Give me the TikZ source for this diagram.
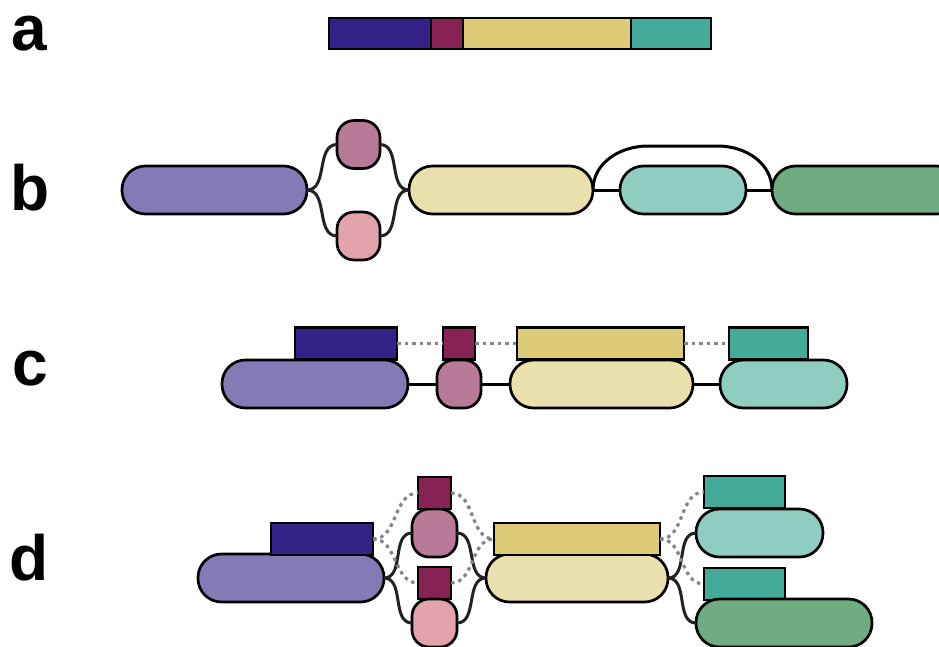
\documentclass[tikz,border=0pt]{standalone}
\usepackage{fontspec}
\setmainfont{Liberation Sans}
\definecolor{cNavy}{HTML}{352288}
\definecolor{cWine}{HTML}{882255}
\definecolor{cSand}{HTML}{DDCC77}
\definecolor{cTeal}{HTML}{44AA99}
\definecolor{pPurple}{HTML}{857AB6}
\definecolor{pRose}{HTML}{B87A96}
\definecolor{pPink}{HTML}{E2A3AD}
\definecolor{pSand}{HTML}{EAE0AE}
\definecolor{pTeal}{HTML}{8FCDC1}
\definecolor{pGreen}{HTML}{6FAC82}
\definecolor{lineDark}{HTML}{222222}
\definecolor{dotGray}{HTML}{858585}
\begin{document}
\begin{tikzpicture}[x=1pt,y=-1pt,
  shp/.style={draw=black, line width=2.7pt, inner sep=0pt, outer sep=0pt},
  pill/.style={shp, rounded corners=23.5pt, minimum height=48pt},
  knob/.style={shp, rounded corners=17pt, minimum height=48pt},
  bar/.style={shp, minimum height=32pt},
  link/.style={draw=lineDark, line width=3pt},
  dlink/.style={draw=dotGray, line width=3.2pt, dash pattern=on 3.5pt off 4pt},
  lbl/.style={font=\bfseries\fontsize{64}{64}\selectfont, anchor=base west, inner sep=0pt}]
\useasboundingbox (0,0) rectangle (939,646);
\clip (0,0) rectangle (939,646);
% labels
\node[lbl] (la) at (11,50) {a};
\node[lbl] (lb) at (10,210) {b};
\node[lbl] (lc) at (12,385) {c};
\node[lbl] (ld) at (9,580) {d};
% row a
\node[bar, fill=cNavy, minimum width=102pt, minimum height=31pt] (An) at (380,33.5) {};
\node[bar, fill=cWine, minimum width=32pt, minimum height=31pt] (Am) at (447,33.5) {};
\node[bar, fill=cSand, minimum width=168pt, minimum height=31pt] (As) at (547,33.5) {};
\node[bar, fill=cTeal, minimum width=80pt, minimum height=31pt] (Aq) at (671,33.5) {};
% row b
\node[pill, fill=pPurple, minimum width=185pt] (Bp) at (214.5,190) {};
\node[knob, fill=pRose, minimum width=43pt] (Bk1) at (358.5,144.5) {};
\node[knob, fill=pPink, minimum width=43pt] (Bk2) at (358.5,236) {};
\node[pill, fill=pSand, minimum width=184pt] (By) at (501,190) {};
\node[pill, fill=pTeal, minimum width=126pt] (Bt) at (683,190) {};
\node[pill, fill=pGreen, minimum width=188pt] (Bg) at (866,190) {};
\draw[link] (Bp.east) to[out=0,in=180] (Bk1.west);
\draw[link] (Bp.east) to[out=0,in=180] (Bk2.west);
\draw[link] (Bk1.east) to[out=0,in=180] (By.west);
\draw[link] (Bk2.east) to[out=0,in=180] (By.west);
\draw[link, draw=black] (By.east) -- (Bt.west);
\draw[link, draw=black] (Bt.east) -- (Bg.west);
\coordinate (arcL) at (648,146);
\coordinate (arcR) at (718,146);
\draw[link, draw=black] (By.east) to[out=90,in=180] (arcL) -- (arcR) to[out=0,in=90] (Bg.west);
% row c
\node[pill, fill=pPurple, minimum width=186pt] (Cp) at (315,384) {};
\node[knob, fill=pRose, minimum width=44pt] (Ck) at (459,384) {};
\node[pill, fill=pSand, minimum width=183pt] (Cy) at (601.5,384) {};
\node[pill, fill=pTeal, minimum width=127pt] (Ct) at (783.5,384) {};
\node[bar, fill=cNavy, minimum width=102pt] (Cn) at (346,343.5) {};
\node[bar, fill=cWine, minimum width=32pt] (Cm) at (459,343.5) {};
\node[bar, fill=cSand, minimum width=167pt] (Cs) at (600.5,343.5) {};
\node[bar, fill=cTeal, minimum width=79pt] (Cq) at (768.5,343.5) {};
\draw[link, draw=black] (Cp.east) -- (Ck.west);
\draw[link, draw=black] (Ck.east) -- (Cy.west);
\draw[link, draw=black] (Cy.east) -- (Ct.west);
\draw[dlink] (Cn.east) -- (Cm.west);
\draw[dlink] (Cm.east) -- (Cs.west);
\draw[dlink] (Cs.east) -- (Cq.west);
% row d
\node[pill, fill=pPurple, minimum width=186pt] (Dp) at (291,578) {};
\node[bar, fill=cNavy, minimum width=102pt] (Dn) at (322,539) {};
\node[knob, fill=pRose, minimum width=45pt] (Dk1) at (434.5,533) {};
\node[bar, fill=cWine, minimum width=33pt] (Dm1) at (434.5,493) {};
\node[bar, fill=cWine, minimum width=33pt] (Dm2) at (434.5,583) {};
\node[knob, fill=pPink, minimum width=45pt] (Dk2) at (434.5,623) {};
\node[pill, fill=pSand, minimum width=182pt] (Dy) at (577,578) {};
\node[bar, fill=cSand, minimum width=166pt] (Ds) at (577,539) {};
\node[bar, fill=cTeal, minimum width=81pt] (Dq1) at (744.5,492) {};
\node[pill, fill=pTeal, minimum width=127pt] (Dt) at (759.5,533) {};
\node[bar, fill=cTeal, minimum width=81pt] (Dq2) at (744.5,584) {};
\node[pill, fill=pGreen, minimum width=176pt] (Dg) at (784,623) {};
\draw[link] (Dp.east) to[out=0,in=180] (Dk1.west);
\draw[link] (Dp.east) to[out=0,in=180] (Dk2.west);
\draw[link] (Dk1.east) to[out=0,in=180] (Dy.west);
\draw[link] (Dk2.east) to[out=0,in=180] (Dy.west);
\draw[link] (Dy.east) to[out=0,in=180] (Dt.west);
\draw[link] (Dy.east) to[out=0,in=180] (Dg.west);
\draw[dlink] (Dn.east) to[out=0,in=180] (Dm1.west);
\draw[dlink] (Dn.east) to[out=0,in=180] (Dm2.west);
\draw[dlink] (Dm1.east) to[out=0,in=180] (Ds.west);
\draw[dlink] (Dm2.east) to[out=0,in=180] (Ds.west);
\draw[dlink] (Ds.east) to[out=0,in=180] (Dq1.west);
\draw[dlink] (Ds.east) to[out=0,in=180] (Dq2.west);
\end{tikzpicture}
\end{document}
